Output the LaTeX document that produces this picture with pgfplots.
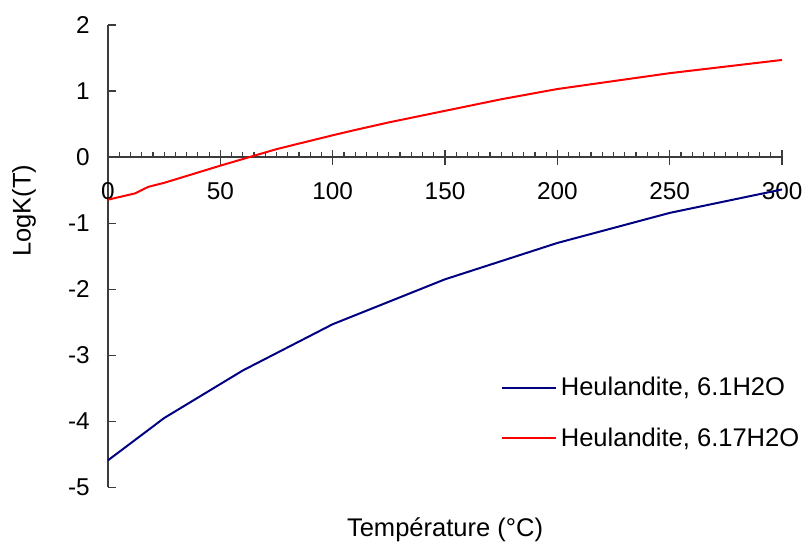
\documentclass[border=0pt]{standalone}
\usepackage{pgfplots}
\pgfplotsset{compat=1.18}
\usepackage{fontspec}
\setmainfont{Liberation Sans}
\definecolor{navyblue}{RGB}{0,0,128}
\definecolor{axgray}{RGB}{60,60,60}
\begin{document}
\begin{tikzpicture}
% y axis only
\begin{axis}[
  scale only axis, width=338pt, height=231.9pt,
  xmin=0, xmax=300, ymin=-5, ymax=2,
  axis x line=none, axis y line=left,
  axis line style={axgray, line width=0.6pt, -},
  ytick={-5,-4,-3,-2,-1,0,1,2},
  yticklabels={-5,-4,-3,-2,-1,0,1,2},
  ytick align=inside, major tick length=3.85pt,
  major tick style={axgray, line width=0.6pt},
  yticklabel style={font=\fontsize{12.2}{14}\selectfont, xshift=-5.6pt},
  ylabel={LogK(T)},
  every axis y label/.style={at={(rel axis cs:0,0.598)}, xshift=-42.15pt, rotate=90, anchor=center, font=\fontsize{12.8}{15}\selectfont},
]
\addplot[draw=none] coordinates {(0,0)};
\end{axis}
% x axis + data
\begin{axis}[
  scale only axis, width=338pt, height=231.9pt,
  xmin=0, xmax=300, ymin=-5, ymax=2,
  axis x line=middle, axis y line=none,
  axis line style={axgray, line width=0.6pt, -},
  hide obscured x ticks=false,
  xtick={0,50,100,150,200,250,300},
  xticklabels={0,50,100,150,200,250,300},
  minor x tick num=9,
  xtick align=inside,
  major tick length=7.5pt, minor tick length=2.3pt,
  major x tick style={axgray, line width=0.7pt, yshift=-3.75pt},
  minor x tick style={axgray, line width=0.6pt},
  xticklabel style={font=\fontsize{12.2}{14}\selectfont, anchor=north, yshift=-9.35pt},
  xlabel={Température (°C)},
  every axis x label/.style={at={(rel axis cs:0.5,0)}, yshift=-21.1pt, anchor=center, font=\fontsize{12.8}{15}\selectfont},
  clip=false,
  legend cell align=left,
  legend image code/.code={\draw[#1] (0pt,0pt) -- (27.15pt,0pt);},
  legend style={draw=none, fill=none, at={(rel axis cs:0.5828,0.161)}, anchor=west,
    inner sep=0pt, row sep=11.1pt, font=\fontsize{12.8}{15}\selectfont,
    nodes={inner sep=1.75pt},
    /tikz/every even column/.append style={column sep=1.3pt}},
]
\addplot[navyblue, line width=1pt] coordinates {
 (0,-4.59) (25,-3.95) (60,-3.23) (100,-2.53) (150,-1.85) (200,-1.30) (250,-0.845) (300,-0.49)};
\addlegendentry{Heulandite, 6.1H2O}
\addplot[red, line width=1pt] coordinates {
 (0,-0.645) (12,-0.55) (18,-0.45) (25,-0.39) (50,-0.13) (75,0.12) (100,0.33) (110,0.41) (125,0.525) (150,0.70) (175,0.875) (200,1.03) (250,1.27) (300,1.47)};
\addlegendentry{Heulandite, 6.17H2O}
\path ([shift={(-54.15pt,-27.6pt)}]rel axis cs:0,0) rectangle ([shift={(12.35pt,12.5pt)}]rel axis cs:1,1);
\end{axis}
\end{tikzpicture}
\end{document}
